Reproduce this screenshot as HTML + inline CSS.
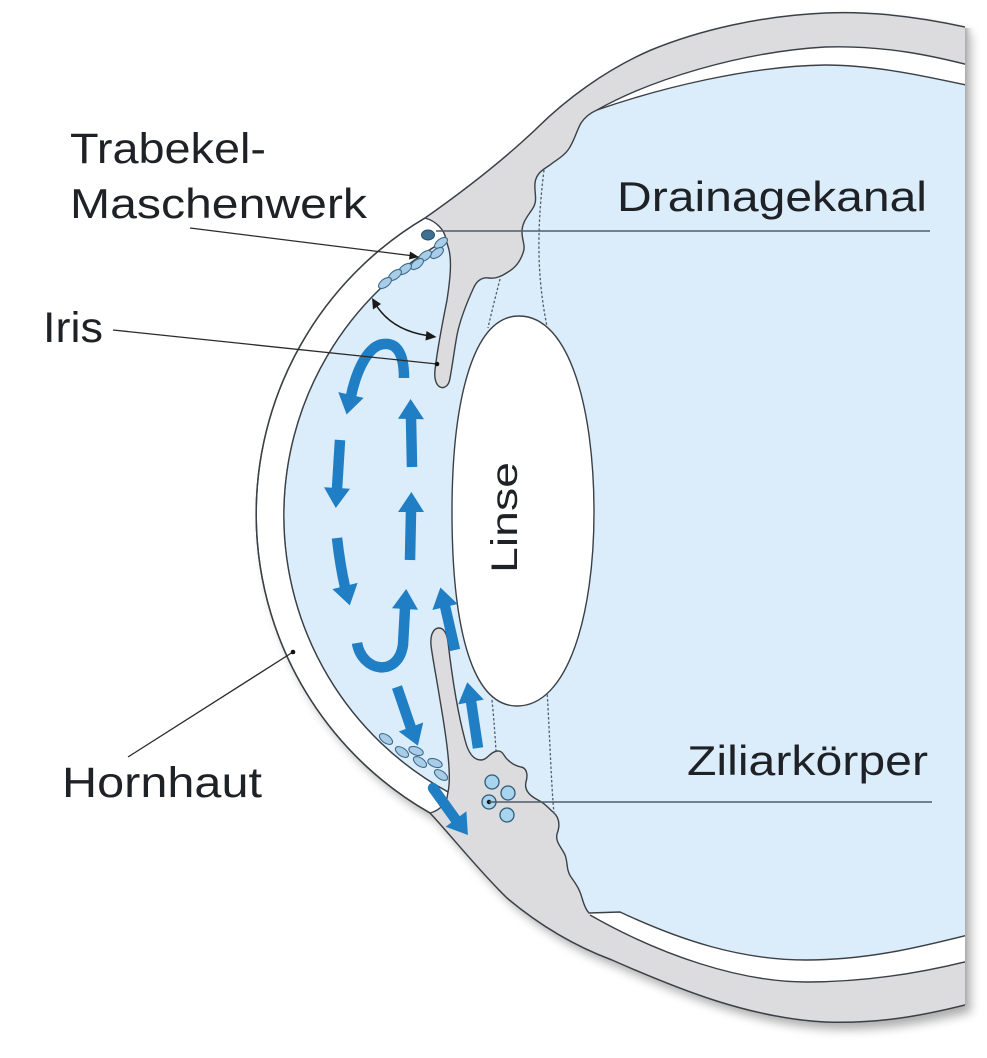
<!DOCTYPE html>
<html>
<head>
<meta charset="utf-8">
<style>
html,body{margin:0;padding:0;background:#fff;}
svg{display:block;}
text{font-family:"Liberation Sans",Arial,sans-serif;fill:#1e2126;}
</style>
</head>
<body>
<svg width="987" height="1058" viewBox="0 0 987 1058" xmlns="http://www.w3.org/2000/svg">
<defs>
  <filter id="bl" x="-10%" y="-10%" width="125%" height="125%"><feGaussianBlur stdDeviation="5"/></filter>
  <clipPath id="cp"><rect x="0" y="0" width="965" height="1058"/></clipPath>
  <linearGradient id="rg" x1="0" x2="1" y1="0" y2="0">
    <stop offset="0" stop-color="#a9a9a9"/>
    <stop offset="1" stop-color="#ffffff" stop-opacity="0"/>
  </linearGradient>
</defs>
<rect width="987" height="1058" fill="#fff"/>

<!-- drop shadow -->
<path d="M965,27 C915,16 870,11 825,13 C760,16 700,30 651,50 C605,70 565,100 535,130 C500,163 462,192 425,218 A344,344 0 0 0 430,813 C448,832 480,872 507,898 C545,930 580,948 612,960 C680,990 750,1018 825,1022 C880,1024 925,1015 965,1005 Z" fill="#000" opacity="0.32" filter="url(#bl)" transform="translate(6,7)"/>

<g clip-path="url(#cp)">
  <!-- grey silhouette -->
  <path d="M980,27 L965,27 C915,16 870,11 825,13 C760,16 700,30 651,50 C605,70 565,100 535,130 C500,163 462,192 425,218 A344,344 0 0 0 430,813 C448,832 480,872 507,898 C545,930 580,948 612,960 C680,990 750,1018 825,1022 C880,1024 925,1015 965,1005 L980,1005 Z" fill="#dcdcde"/>
  <!-- white bands -->
  <path d="M597,110 C650,80 740,52 825,47 C885,45 935,56 980,68 L980,958 C935,970 875,982 806,982 C740,982 660,955 590,915 Z" fill="#ffffff"/>
  <!-- blue interior -->
  <path d="M446,240 A315,315 0 0 0 448,792 C452,775 446,735 440,700 C436,675 432,655 431,645 C430,634 434,628 439,628 C444,628 447,634 448,642 C451,668 457,710 465,740 C468,752 473,760 481,760 C487,760 490,752 497,751 C503,750 504,757 508,760 C512,764 516,766 521,767 C527,768 528,775 526,782 C524,790 530,796 538,800 C546,804 548,808 553,812 C560,818 560,826 557,834 C555,842 562,848 565,855 C568,862 566,870 571,877 C576,884 580,890 582,898 C584,905 586,910 589,913 L620,912 C680,940 740,960 806,960 C870,960 925,946 980,932 L980,88 C925,76 875,65 825,65 C750,66 660,88 597,110 C590,113 585,117 581,123 C576,132 574,142 568,150 C563,157 556,160 550,165 C542,170 536,174 535,183 C534,192 538,200 533,208 C528,216 522,222 522,232 C522,241 526,246 523,253 C520,262 515,268 508,272 C502,276 496,279 489,278 C482,277 477,281 474,287 C468,300 460,320 457,335 C454,352 452,368 450,378 C449,386 444,389 440,387 C436,385 434,378 435,370 C437,352 443,320 447,300 C450,280 452,262 449,250 C448,246 447,243 446,240 Z" fill="#dbedfa" stroke="#3b4046" stroke-width="1.4"/>
  <!-- cornea white band -->
  <path d="M425,218 A344,344 0 0 0 430,813 C438,811 445,805 447,798 L448,792 A315,315 0 0 1 446,240 C445,230 436,221 425,218 Z" fill="#ffffff" stroke="#3b4046" stroke-width="1.4"/>
  <!-- middle sclera lines -->
  <path d="M597,110 C650,80 740,52 825,47 C885,45 935,56 980,68" fill="none" stroke="#3b4046" stroke-width="1.4"/>
  <path d="M590,915 C660,955 740,982 806,982 C875,982 935,970 980,958" fill="none" stroke="#3b4046" stroke-width="1.4"/>
  <!-- outer contour -->
  <path d="M965,27 C915,16 870,11 825,13 C760,16 700,30 651,50 C605,70 565,100 535,130 C500,163 462,192 425,218 A344,344 0 0 0 430,813 C448,832 480,872 507,898 C545,930 580,948 612,960 C680,990 750,1018 825,1022 C880,1024 925,1015 965,1005" fill="none" stroke="#3b4046" stroke-width="1.5"/>

  <!-- zonule dotted lines -->
  <g fill="none" stroke="#555c63" stroke-width="1.3" stroke-dasharray="2.5,2">
    <path d="M544,170 C536,235 537,285 550,340"/>
    <path d="M547,690 C550,740 551,780 554,814"/>
    <path d="M500,279 C496,295 492,310 488,328"/>
    <path d="M492,700 C494,720 495,735 496,751"/>
  </g>

  <!-- lens -->
  <path d="M519,316 C570,316 594,410 594,512 C594,615 568,706 517,706 C468,706 452,615 452,512 C452,410 470,316 519,316 Z" fill="#ffffff" stroke="#3b4046" stroke-width="1.4"/>
  <text transform="translate(517,573) rotate(-90)" font-size="37" textLength="111" lengthAdjust="spacingAndGlyphs">Linse</text>

  <!-- trabecular meshwork ovals -->
  <g fill="#a9cde6" stroke="#3d6b8b" stroke-width="1.1">
    <ellipse cx="441" cy="243" rx="7.5" ry="4" transform="rotate(-37 441 243)"/>
    <ellipse cx="437" cy="253" rx="7.5" ry="4" transform="rotate(-37 437 253)"/>
    <ellipse cx="425" cy="256" rx="7.5" ry="4" transform="rotate(-37 425 256)"/>
    <ellipse cx="417" cy="264" rx="7.5" ry="4" transform="rotate(-37 417 264)"/>
    <ellipse cx="405" cy="269" rx="7.5" ry="4" transform="rotate(-37 405 269)"/>
    <ellipse cx="395" cy="275" rx="7.5" ry="4" transform="rotate(-37 395 275)"/>
    <ellipse cx="385" cy="283" rx="7.5" ry="4" transform="rotate(-37 385 283)"/>
    <ellipse cx="386" cy="739" rx="7.5" ry="4" transform="rotate(35 386 739)"/>
    <ellipse cx="402" cy="752" rx="7.5" ry="4" transform="rotate(35 402 752)"/>
    <ellipse cx="416" cy="751" rx="7.5" ry="4" transform="rotate(20 416 751)"/>
    <ellipse cx="420" cy="762" rx="7.5" ry="4" transform="rotate(35 420 762)"/>
    <ellipse cx="435" cy="763" rx="7.5" ry="4" transform="rotate(20 435 763)"/>
    <ellipse cx="441" cy="775" rx="7.5" ry="4" transform="rotate(35 441 775)"/>
  </g>
  <ellipse cx="428" cy="235" rx="6.5" ry="5" fill="#3f6f93" stroke="#2a4d68" stroke-width="1"/>

  <!-- ciliary circles -->
  <g fill="#a8d4ee" stroke="#2f5a78" stroke-width="1.3">
    <circle cx="492" cy="782" r="7"/>
    <circle cx="508" cy="793" r="7"/>
    <circle cx="489" cy="802" r="7"/>
    <circle cx="507" cy="815" r="7"/>
  </g>
  <circle cx="489" cy="802" r="2.2" fill="#111"/>

  <!-- label leader lines -->
  <line x1="436" y1="231" x2="930" y2="231" stroke="#4d5c68" stroke-width="1.6"/>
  <line x1="489" y1="802" x2="932" y2="802" stroke="#4d5c68" stroke-width="1.6"/>

  <!-- blue flow arrows -->
  <g fill="none" stroke="#1f7ec4" stroke-width="10.5">
    <path d="M404,378 C404,352 396,343 384,344 C369,345 357,368 351,396"/>
    <path d="M340,440 L337,489"/>
    <path d="M337,538 Q340,565 345,587"/>
    <path d="M412,467 L411,418"/>
    <path d="M410,560 L411,511"/>
    <path d="M357,643 C362,672 398,678 403,645 L405,608"/>
    <path d="M455,650 L445,606"/>
    <path d="M478,748 L471,701"/>
    <path d="M397,687 L411,728"/>
    <path d="M433,788 L456,820" stroke-linecap="round"/>
  </g>
  <g fill="#1f7ec4">
    <polygon points="346.6,414.5 338.3,392.1 363.7,397.9"/>
    <polygon points="335.8,508 324,487.2 350,488.8"/>
    <polygon points="349.8,605.4 332.4,589.1 357.6,582.9"/>
    <polygon points="410.6,399 424,419.3 398,418.7"/>
    <polygon points="411.4,492 424,512 398,512"/>
    <polygon points="406.2,589 418,609.8 392,608.2"/>
    <polygon points="440.4,587.5 457.6,604 432.4,610"/>
    <polygon points="467.3,682.3 483.8,699.6 458.2,704.4"/>
    <polygon points="417.9,745.8 398.8,731.5 423.2,722.5"/>
    <polygon points="467.9,835 445.6,826.7 466.4,811.3"/>
  </g>
</g>

<!-- right edge shadow strip -->
<rect x="965" y="28" width="10" height="977" fill="url(#rg)"/>

<!-- double-headed arrow (black) -->
<path d="M376,305 Q392,330 427,335.5" fill="none" stroke="#1a1a1a" stroke-width="1.5"/>
<polygon points="372,298 381,304 373,309.5" fill="#1a1a1a"/>
<polygon points="436.5,337 425.5,340.5 426.5,331" fill="#1a1a1a"/>

<!-- leader lines -->
<g stroke="#2a2a2a" stroke-width="1.3" fill="none">
  <line x1="190" y1="228" x2="410" y2="255.5"/>
  <line x1="113" y1="330" x2="437" y2="364"/>
  <line x1="128" y1="757" x2="293" y2="652"/>
</g>
<polygon points="419,257 409,259.5 410,251.5" fill="#1a1a1a"/>
<circle cx="437" cy="364" r="2.3" fill="#111"/>
<circle cx="293" cy="652" r="2.3" fill="#111"/>

<!-- labels -->
<text x="70" y="163" font-size="43" textLength="196" lengthAdjust="spacingAndGlyphs">Trabekel-</text>
<text x="70" y="218" font-size="42" textLength="297" lengthAdjust="spacingAndGlyphs">Maschenwerk</text>
<text x="43" y="342" font-size="43" textLength="60" lengthAdjust="spacingAndGlyphs">Iris</text>
<text x="617" y="211" font-size="42" textLength="310" lengthAdjust="spacingAndGlyphs">Drainagekanal</text>
<text x="62" y="797" font-size="43" textLength="200" lengthAdjust="spacingAndGlyphs">Hornhaut</text>
<text x="687" y="775" font-size="42" textLength="241" lengthAdjust="spacingAndGlyphs">Ziliarkörper</text>
</svg>
</body>
</html>
